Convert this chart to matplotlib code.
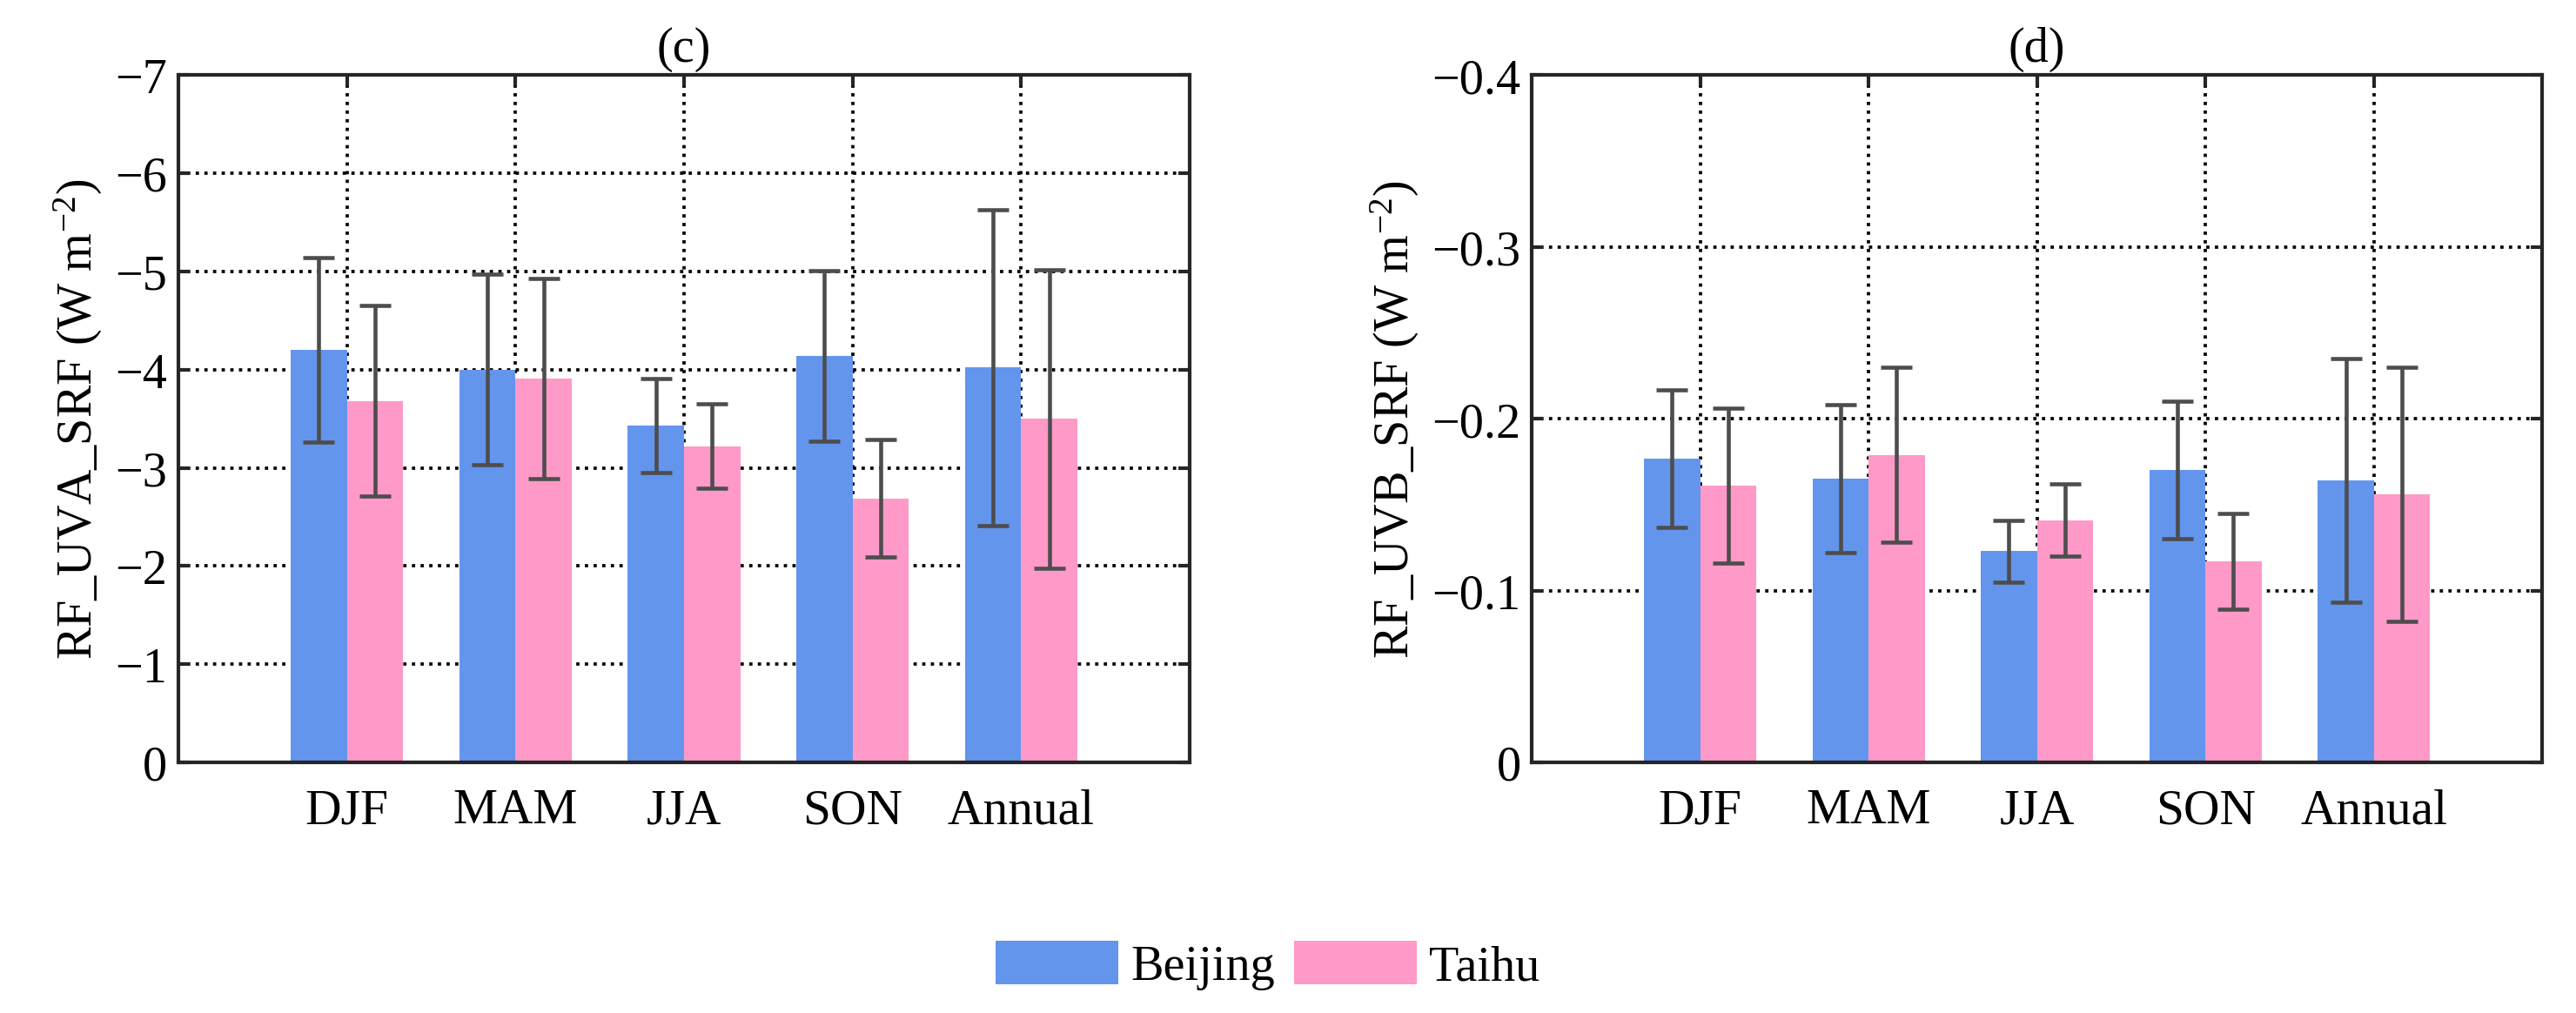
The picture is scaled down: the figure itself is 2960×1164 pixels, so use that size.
import numpy as np
import matplotlib
matplotlib.use("Agg")
from matplotlib import pyplot as plt

#
# Data
#
seasons = ["DJF", "MAM", "JJA", "SON", "Annual"]

# (c) UVA radiative forcing at surface (W m-2)
uva_beijing = [-4.20, -4.00, -3.43, -4.14, -4.02]
uva_beijing_err = [0.94, 0.97, 0.48, 0.87, 1.61]
uva_taihu = [-3.68, -3.91, -3.22, -2.69, -3.50]
uva_taihu_err = [0.97, 1.02, 0.43, 0.60, 1.52]

# (d) UVB radiative forcing at surface (W m-2)
uvb_beijing = [-0.177, -0.165, -0.123, -0.170, -0.164]
uvb_beijing_err = [0.040, 0.043, 0.018, 0.040, 0.071]
uvb_taihu = [-0.161, -0.179, -0.141, -0.117, -0.156]
uvb_taihu_err = [0.045, 0.051, 0.021, 0.028, 0.074]

uva_ticks = [0, -1, -2, -3, -4, -5, -6, -7]
uva_tick_labels = ["0", "\u22121", "\u22122", "\u22123", "\u22124", "\u22125", "\u22126", "\u22127"]
uvb_ticks = [0, -0.1, -0.2, -0.3, -0.4]
uvb_tick_labels = ["0", "\u22120.1", "\u22120.2", "\u22120.3", "\u22120.4"]

#
# Style
#
plt.rcParams["font.family"] = "Liberation Serif"
plt.rcParams["mathtext.fontset"] = "custom"
plt.rcParams["mathtext.rm"] = "Liberation Serif"
plt.rcParams["mathtext.default"] = "regular"
plt.rcParams["font.size"] = 13.5

BLUE = "#6495ed"
PINK = "#ff99c8"
ERR_COLOR = "#4d4d4d"
AX_COLOR = "#262626"
BAR_W = 1.0 / 3.0
FS = 13.5


# Draw one panel
def draw_panel(ax, beijing, beijing_err, taihu, taihu_err, ymin, ticks, tick_labels, ylabel, title):
    x = np.arange(1, len(seasons) + 1)
    ax.bar(x - BAR_W / 2, beijing, BAR_W, color=BLUE, label="Beijing", zorder=2)
    ax.bar(x + BAR_W / 2, taihu, BAR_W, color=PINK, label="Taihu", zorder=2)
    err_kw = dict(fmt="none", ecolor=ERR_COLOR, elinewidth=1.1, capsize=4.3, capthick=1.1, zorder=3)
    ax.errorbar(x - BAR_W / 2, beijing, yerr=beijing_err, **err_kw)
    ax.errorbar(x + BAR_W / 2, taihu, yerr=taihu_err, **err_kw)

    ax.set_xlim(0, len(seasons) + 1)
    ax.set_ylim(0, ymin)
    ax.set_xticks(x)
    ax.set_xticklabels(seasons, fontsize=FS + 0.3)
    ax.set_yticks(ticks)
    ax.set_yticklabels(tick_labels, fontsize=FS)
    ax.tick_params(direction="in", length=3.2, width=1.0, color=AX_COLOR,
                   top=True, right=True)
    ax.tick_params(axis="x", pad=7)
    ax.tick_params(axis="y", pad=3)
    ax.grid(True, color="black", linestyle=":", linewidth=0.9, zorder=0)
    ax.set_axisbelow(True)
    for spine in ax.spines.values():
        spine.set_linewidth(1.0)
        spine.set_edgecolor(AX_COLOR)
    ax.set_ylabel(ylabel, fontsize=FS, labelpad=3)
    ax.set_title(title, fontsize=FS, pad=4)


fig = plt.figure(figsize=(9.87, 3.883), dpi=300)
ax_c = fig.add_axes([0.0692, 0.2472, 0.3925, 0.678])
ax_d = fig.add_axes([0.5944, 0.2472, 0.3922, 0.678])

draw_panel(ax_c, uva_beijing, uva_beijing_err, uva_taihu, uva_taihu_err, -7,
           uva_ticks, uva_tick_labels, "RF_UVA_SRF (W m$^{-2}$)", "(c)")
draw_panel(ax_d, uvb_beijing, uvb_beijing_err, uvb_taihu, uvb_taihu_err, -0.4,
           uvb_ticks, uvb_tick_labels, "RF_UVB_SRF (W m$^{-2}$)", "(d)")

handles, labels = ax_c.get_legend_handles_labels()
fig.legend(handles, labels, loc="center", bbox_to_anchor=(0.492, 0.047), ncol=2,
           frameon=False, fontsize=FS, handlelength=2.5, handleheight=1.0,
           handletextpad=0.25, columnspacing=0.4)

fig.savefig("out.png", dpi=300)
plt.close(fig)
